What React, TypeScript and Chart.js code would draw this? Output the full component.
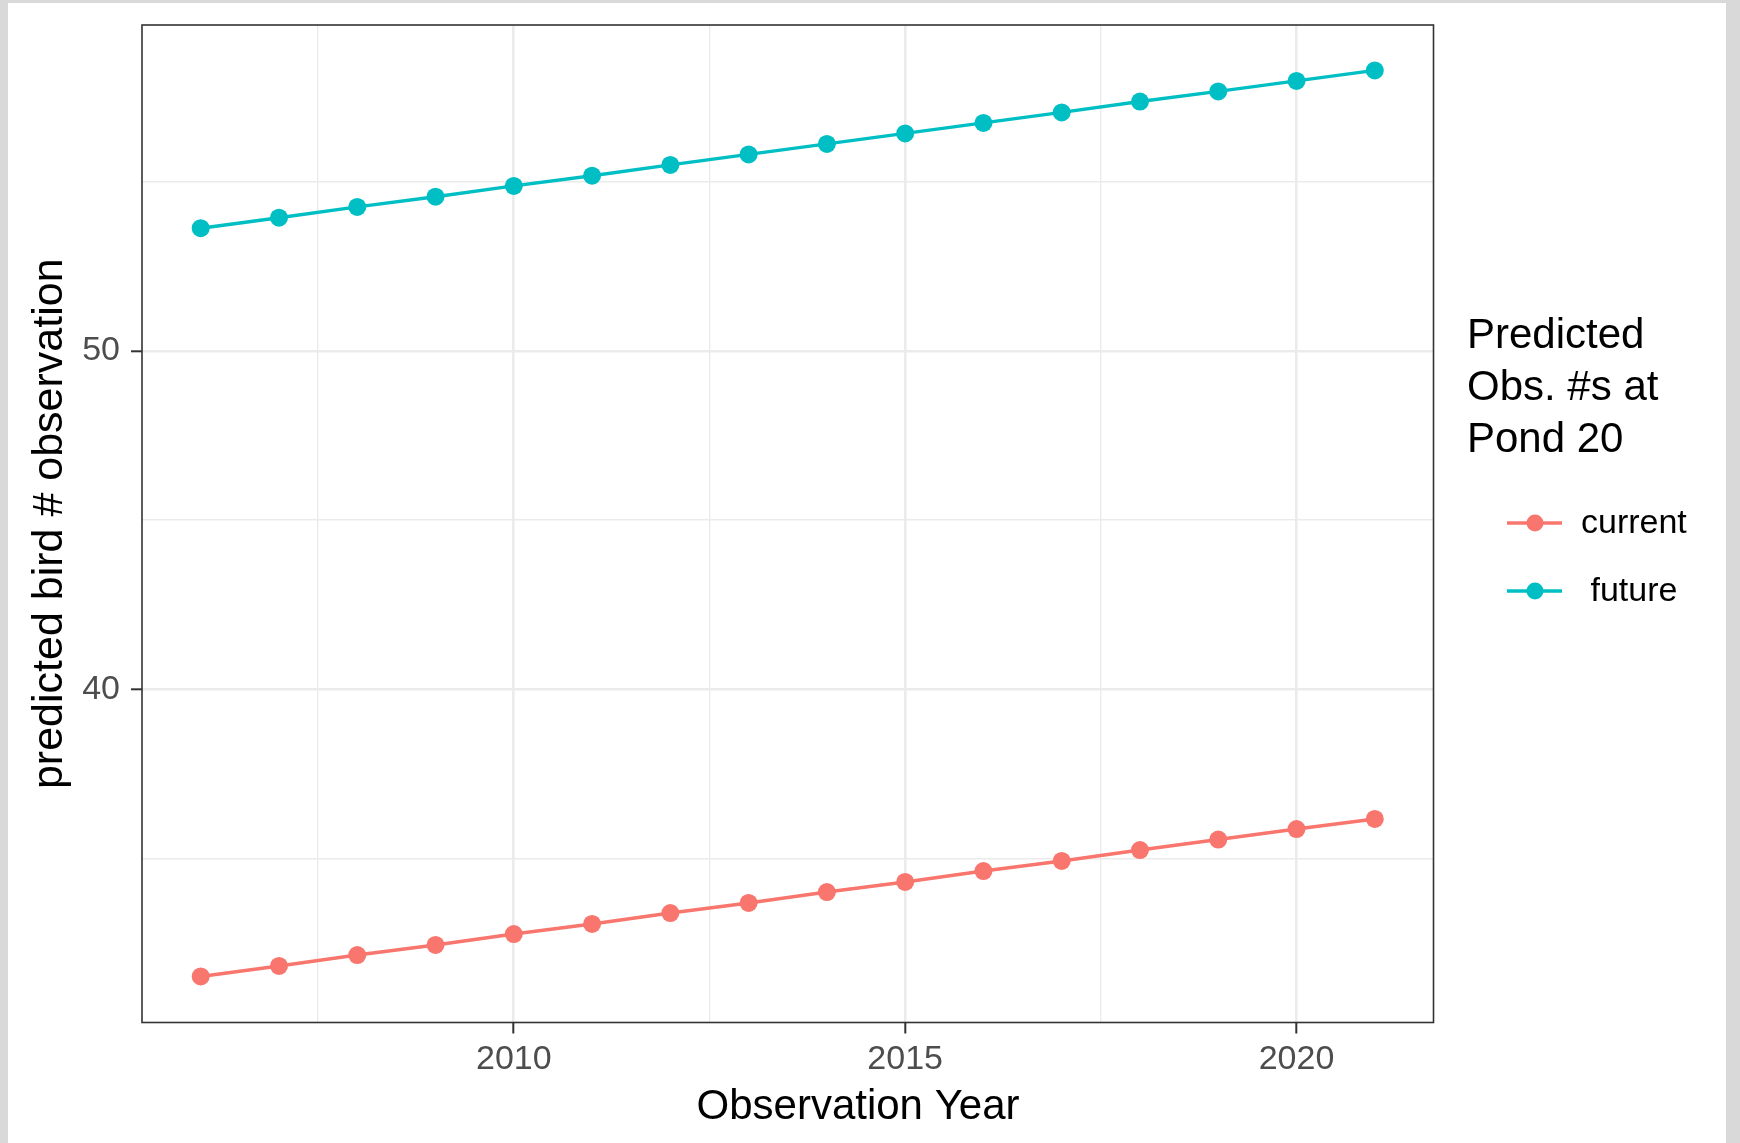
import React, { useEffect, useRef } from 'react';
import { Chart, registerables } from 'chart.js';

Chart.register(...registerables);

// ---- data ----
const years = [2006, 2007, 2008, 2009, 2010, 2011, 2012, 2013, 2014, 2015, 2016, 2017, 2018, 2019, 2020, 2021];
const currentValues = [31.53, 31.84, 32.16, 32.46, 32.78, 33.08, 33.40, 33.70, 34.02, 34.32, 34.64, 34.94, 35.26, 35.57, 35.88, 36.18];
const futureValues = [53.62, 53.93, 54.25, 54.55, 54.87, 55.17, 55.49, 55.80, 56.11, 56.42, 56.73, 57.04, 57.36, 57.66, 57.97, 58.28];
const seriesLabels = ['current', ' future'];
const seriesColors = ['#F8766D', '#00BFC4'];
const xMajorTicks = [2010, 2015, 2020];
const yMajorTicks = [40, 50];
const legendTitleLines = ['Predicted', 'Obs. #s at', 'Pond 20'];
const xTitle = 'Observation Year';
const yTitle = 'predicted bird # observation';

const FONT = '"Liberation Sans", Arial, Helvetica, sans-serif';

const decorPlugin = {
  id: 'decor',
  afterDraw(chart: any) {
    const { ctx, chartArea: a } = chart;
    ctx.save();
    // panel border
    ctx.strokeStyle = '#333333';
    ctx.lineWidth = 1.6;
    ctx.strokeRect(a.left, a.top, a.right - a.left, a.bottom - a.top);

    // axis titles
    ctx.fillStyle = '#000000';
    ctx.font = `42px ${FONT}`;
    ctx.textAlign = 'center';
    ctx.textBaseline = 'alphabetic';
    ctx.fillText(xTitle, 850, 1116);
    ctx.save();
    ctx.font = `43px ${FONT}`;
    ctx.translate(54, (a.top + a.bottom) / 2);
    ctx.rotate(-Math.PI / 2);
    ctx.fillText(yTitle, 0, 0);
    ctx.restore();

    // legend title
    ctx.textAlign = 'left';
    const tx = 1459;
    legendTitleLines.forEach((line, i) => {
      ctx.fillText(line, tx, 345 + i * 52);
    });

    // legend keys
    ctx.font = `34px ${FONT}`;
    ctx.textBaseline = 'middle';
    chart.data.datasets.forEach((ds: any, i: number) => {
      const y = 520 + i * 68;
      ctx.strokeStyle = ds.borderColor;
      ctx.lineWidth = 3.5;
      ctx.beginPath();
      ctx.moveTo(1499, y);
      ctx.lineTo(1554, y);
      ctx.stroke();
      ctx.fillStyle = ds.pointBackgroundColor;
      ctx.beginPath();
      ctx.arc(1527, y, 8.5, 0, Math.PI * 2);
      ctx.fill();
      ctx.fillStyle = '#000000';
      ctx.fillText(ds.label, 1573, y + 1);
    });
    ctx.restore();
  },
};

export default function App() {
  const canvasRef = useRef<HTMLCanvasElement | null>(null);

  useEffect(() => {
    if (!canvasRef.current) return;
    const datasets = [currentValues, futureValues].map((vals, i) => ({
      label: seriesLabels[i],
      data: years.map((x, j) => ({ x, y: vals[j] })),
      borderColor: seriesColors[i],
      backgroundColor: seriesColors[i],
      pointBackgroundColor: seriesColors[i],
      pointBorderWidth: 0,
      pointRadius: 9,
      borderWidth: 3.5,
      tension: 0,
      fill: false,
    }));

    const gridColor = '#EBEBEB';
    const chart = new Chart(canvasRef.current, {
      type: 'line',
      data: { datasets },
      plugins: [decorPlugin],
      options: {
        animation: false,
        responsive: false,
        devicePixelRatio: 1,
        layout: { padding: { left: 0, top: 22, right: 292.5, bottom: 0 } },
        plugins: {
          legend: { display: false },
          tooltip: { enabled: false },
        },
        scales: {
          x: {
            type: 'linear',
            min: 2005.25,
            max: 2021.75,
            afterFit: (s: any) => { s.height = 120.5; s.paddingLeft = 0; s.paddingRight = 0; },
            border: { display: false },
            grid: {
              color: gridColor,
              lineWidth: (c: any) => (xMajorTicks.includes(c.tick?.value) ? 2.6 : 1.4),
              drawTicks: true,
              tickLength: 11,
              tickWidth: 2,
              tickColor: (c: any) => (xMajorTicks.includes(c.tick?.value) ? '#333333' : 'rgba(0,0,0,0)'),
            },
            ticks: {
              stepSize: 2.5,
              includeBounds: false,
              autoSkip: false,
              maxRotation: 0,
              padding: 6,
              color: '#4D4D4D',
              font: { family: FONT, size: 34, lineHeight: 1.2 },
              callback: (v: any) => (xMajorTicks.includes(Number(v)) ? String(v) : ''),
            },
          },
          y: {
            type: 'linear',
            min: 30.17,
            max: 59.62,
            afterFit: (s: any) => { s.width = 134; s.paddingTop = 0; s.paddingBottom = 0; },
            border: { display: false },
            grid: {
              color: gridColor,
              lineWidth: (c: any) => (yMajorTicks.includes(c.tick?.value) ? 2.6 : 1.4),
              drawTicks: true,
              tickLength: 11,
              tickWidth: 2,
              tickColor: (c: any) => (yMajorTicks.includes(c.tick?.value) ? '#333333' : 'rgba(0,0,0,0)'),
            },
            ticks: {
              stepSize: 5,
              includeBounds: false,
              autoSkip: false,
              padding: 11,
              color: '#4D4D4D',
              font: { family: FONT, size: 34, lineHeight: 1.2 },
              callback: (v: any) => (yMajorTicks.includes(Number(v)) ? String(v) : ''),
            },
          },
        },
      },
    });
    return () => chart.destroy();
  }, []);

  return (
    <div style={{ position: 'fixed', left: 0, top: 0, width: 1740, height: 1143, background: '#D9D9D9' }}>
      <div style={{ position: 'absolute', left: 8, top: 3, width: 1718, height: 1140, background: '#FFFFFF' }}>
        <canvas ref={canvasRef} width={1718} height={1140} style={{ display: 'block', width: 1718, height: 1140 }} />
      </div>
    </div>
  );
}
